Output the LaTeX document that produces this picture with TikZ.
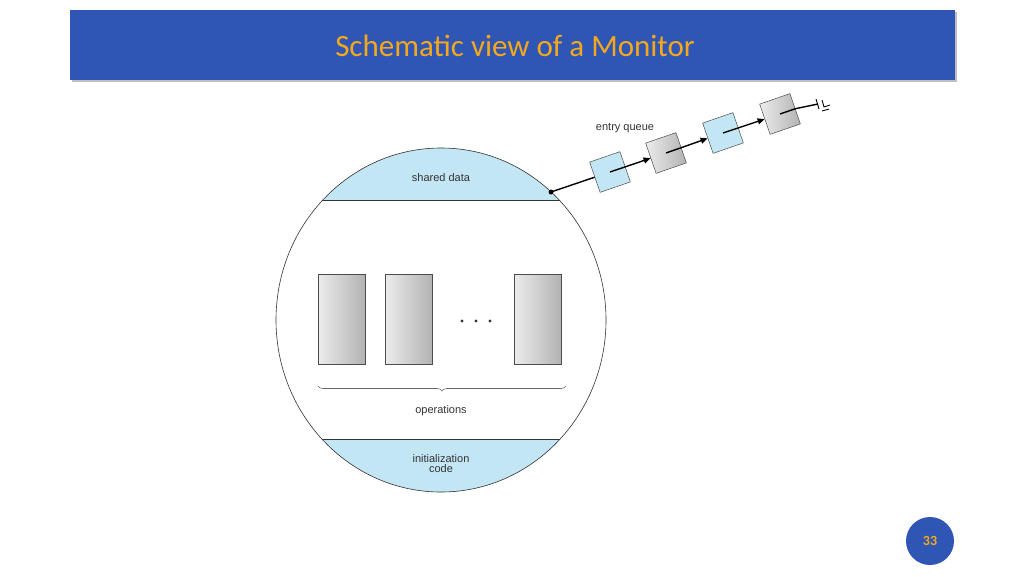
\documentclass[tikz,border=0pt]{standalone}
\usepackage{fontspec}
\setmainfont{Liberation Sans}
\newfontfamily\titlefont{Carlito}
\usetikzlibrary{decorations.pathreplacing,arrows.meta}
\definecolor{barblue}{HTML}{2F56B5}
\definecolor{ttlorange}{HTML}{F4A81D}
\definecolor{lblue}{HTML}{C3E6F5}
\tikzset{
  lbl/.style={font=\fontsize{11pt}{12pt}\selectfont, text=black!80, align=center},
  opbox/.style={draw=black!70, line width=0.5pt, left color=gray!15, right color=gray!60, minimum width=47pt, minimum height=90pt, inner sep=0pt},
  qblue/.style={draw=black!70, line width=0.5pt, fill=lblue, minimum size=32pt, inner sep=0pt, rotate=19},
  qgray/.style={draw=black!70, line width=0.5pt, left color=gray!15, right color=gray!60, minimum size=32pt, inner sep=0pt, rotate=19},
  qarrow/.style={line width=1.4pt, -{Triangle[length=7pt,width=6pt]}}
}
\begin{document}
\begin{tikzpicture}[x=1pt,y=-1pt]
\useasboundingbox (0,0) rectangle (1024,576);
\fill[white] (0,0) rectangle (1024,576);
% title bar
\fill[black!25] (72,12) rectangle (957,82);
\node[fill=barblue, minimum width=885pt, minimum height=70pt, inner sep=0pt] (bar) at (512.5,45) {};
\node[font=\titlefont\fontsize{31pt}{34pt}\selectfont, text=ttlorange] (title) at (515,46) {Schematic view of a Monitor};
% page number
\node[circle, fill=barblue, minimum size=48pt, inner sep=0pt, font=\titlefont\bfseries\fontsize{14pt}{14pt}\selectfont, text=ttlorange] (pg) at (930,541) {33};
% monitor ellipse
\coordinate (c) at (441,320);
\begin{scope}
\clip (c) ellipse [x radius=165, y radius=172];
\fill[lblue] (250,140) rectangle (640,200);
\fill[lblue] (250,439) rectangle (640,500);
\draw[black!80, line width=0.6pt] (250,200) -- (640,200);
\draw[black!80, line width=0.6pt] (250,439) -- (640,439);
\end{scope}
\draw[black!80, line width=0.6pt] (c) ellipse [x radius=165, y radius=172];
\node[lbl] (sd) at (441,178) {shared data};
\node[lbl] (ic) at (441,464) {initialization\\[-2pt]code};
% operations
\node[opbox] (op1) at (341.5,319) {};
\node[opbox] (op2) at (408.5,319) {};
\node[opbox] (op3) at (537.5,319) {};
\foreach \x in {462,476,490} \fill[black!80] (\x,321) circle (1.6);
\draw[decorate, decoration={brace, amplitude=5pt, mirror}, black!60, line width=0.6pt] (318,386) -- (566,386);
\node[lbl] (ops) at (441,411) {operations};
% entry queue
\coordinate (ent) at (551,192);
\fill (ent) circle (2.5);
\node[qblue] (q1) at (610,172) {};
\node[qgray] (q2) at (666,153) {};
\node[qblue] (q3) at (723,133) {};
\node[qgray] (q4) at (780,114) {};
\draw[line width=1.4pt] (ent) -- (q1);
\draw[qarrow] (q1.center) -- (q2);
\draw[qarrow] (q2.center) -- (q3);
\draw[qarrow] (q3.center) -- (q4);
\coordinate (gnd) at (818,104);
\draw[line width=1.4pt] (q4.center) -- (q4.east) -- (gnd);
\draw[line width=0.9pt] (816,99) -- (819,109);
\draw[line width=0.9pt] (822,100) -- (824,107) -- (830,105);
\draw[line width=0.9pt] (822,111) -- (829,109);
\node[lbl] (eq) at (625,128) {entry queue};
\end{tikzpicture}
\end{document}
